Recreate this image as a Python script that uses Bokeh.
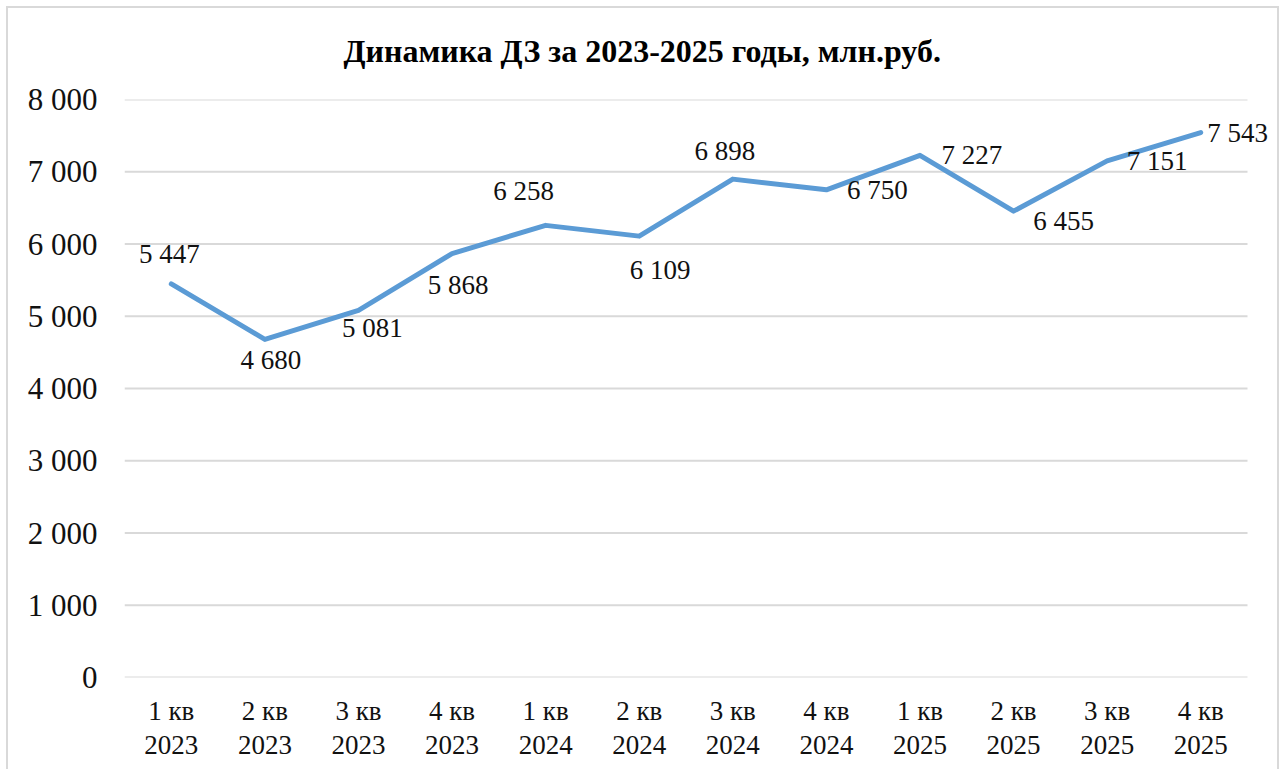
import numpy as np
from bokeh.plotting import figure
from bokeh.models import ColumnDataSource, Range1d, FixedTicker, CustomJSTickFormatter, InlineStyleSheet, LabelSet
from bokeh.embed import file_html
from bokeh.resources import INLINE

# ---- data ----
quarters = ["1 кв", "2 кв", "3 кв", "4 кв"] * 3
years = ["2023"] * 4 + ["2024"] * 4 + ["2025"] * 4
values = [5447, 4680, 5081, 5868, 6258, 6109, 6898, 6750, 7227, 6455, 7151, 7543]
y_ticks = [0, 1000, 2000, 3000, 4000, 5000, 6000, 7000, 8000]
title_text = "Динамика ДЗ за 2023-2025 годы, млн.руб."

categories = [f"{q}\n{y}" for q, y in zip(quarters, years)]
labels = [f"{v:,}".replace(",", " ") for v in values]
n = len(categories)
xpos = np.arange(n) + 0.5  # category centres

# label placement (screen pixel offsets from each point; +y is up), layout only
dx = [-2, 6, 14, 6, -22, 21, -8, 51, 52, 50, 50, 37]
dy = [30, -21, -18, -31, 34, -34, 28, 0, 0, -10, 0, 0]

FONT = "Liberation Serif"
LINE = "#5B9BD5"
GRID = "#d9d9d9"

src = ColumnDataSource(dict(x=xpos, y=values, lab=labels, dx=dx, dy=dy))

W, H = 1286, 769
ML, MR, MT, MB = 124, 10, 99, 92
frame_w = W - ML - MR
plot_w = 1123  # width that the n categories span
p = figure(
    width=W, height=H,
    x_range=Range1d(0, n * frame_w / plot_w),
    y_range=Range1d(0, 8000),
    output_backend="svg", toolbar_location=None,
    min_border_left=ML, min_border_right=MR,
    min_border_top=MT, min_border_bottom=MB,
    title=title_text,
)
css = """
:host {
  background:
    linear-gradient(#d9d9d9, #d9d9d9) 6px 6px / 2px 100% no-repeat,
    linear-gradient(#d9d9d9, #d9d9d9) 6px 6px / 1273px 2px no-repeat,
    linear-gradient(#d9d9d9, #d9d9d9) 1277px 6px / 2px 100% no-repeat,
    white;
}
"""
p.stylesheets = [InlineStyleSheet(css=css)]

p.title.align = "left"
p.title.offset = 219
p.title.text_font = FONT
p.title.text_font_size = "32px"
p.title.text_font_style = "bold"
p.title.text_color = "black"
p.title.standoff = 61

p.outline_line_color = None
p.background_fill_color = "white"
p.border_fill_color = None

p.xgrid.visible = False
p.ygrid.visible = False
p.segment(x0=[0] * len(y_ticks), x1=[n] * len(y_ticks), y0=y_ticks, y1=y_ticks,
          line_color=GRID, line_width=2)

p.yaxis.ticker = FixedTicker(ticks=y_ticks)
p.yaxis.formatter = CustomJSTickFormatter(code="""
    if (tick >= 1000) {
        const t = Math.floor(tick / 1000);
        const r = String(tick % 1000).padStart(3, '0');
        return t + ' ' + r;
    }
    return String(tick);
""")
p.xaxis.ticker = FixedTicker(ticks=list(xpos))
p.xaxis.major_label_overrides = {float(x): c for x, c in zip(xpos, categories)}

for ax in (p.xaxis, p.yaxis):
    ax.axis_line_color = None
    ax.major_tick_line_color = None
    ax.minor_tick_line_color = None
    ax.major_tick_out = 0
    ax.major_tick_in = 0
    ax.major_label_text_font = FONT
    ax.major_label_text_color = "#111111"
p.yaxis.major_label_text_font_size = "31px"
p.xaxis.major_label_text_font_size = "27px"
p.yaxis.major_label_standoff = 27
p.xaxis.major_label_standoff = 18
p.xaxis.major_label_text_line_height = 1.15

p.line("x", "y", source=src, line_color=LINE, line_width=5, line_join="round", line_cap="round")

p.add_layout(LabelSet(x="x", y="y", text="lab", source=src, x_offset="dx", y_offset="dy",
                      text_font=FONT, text_font_size="27px", text_color="#111111",
                      text_align="center", text_baseline="middle"))

open("out.html", "w").write(file_html(p, INLINE))
